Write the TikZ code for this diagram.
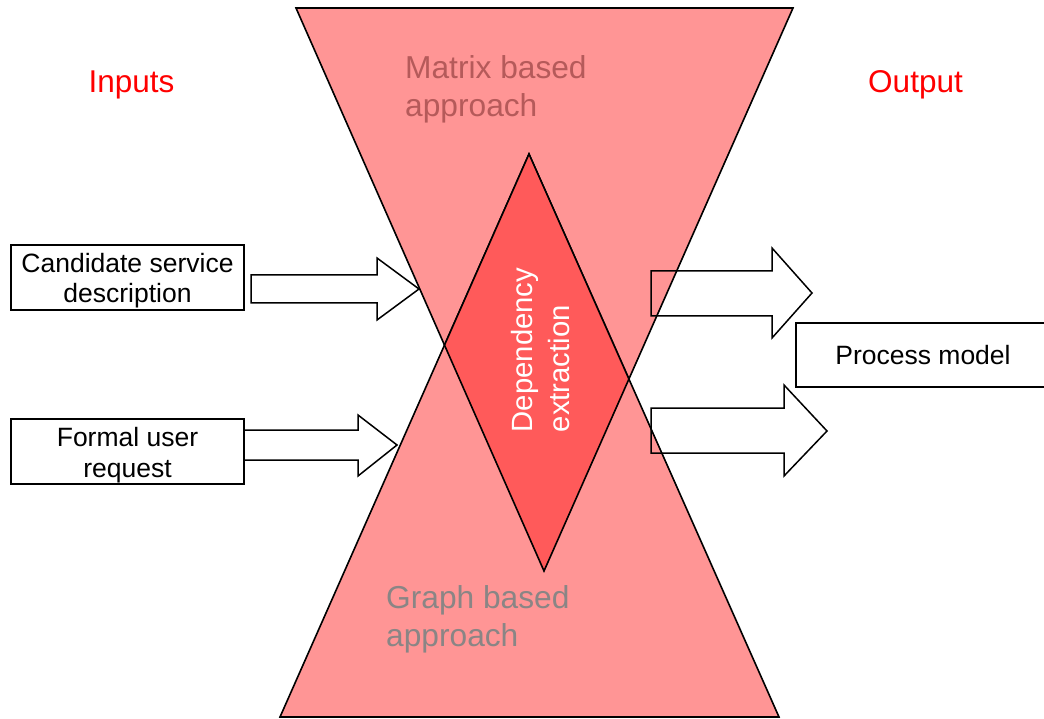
\documentclass[tikz,border=0pt]{standalone}
\usepackage{fontspec}
\setmainfont{Liberation Sans}
\definecolor{funnelpink}{HTML}{FF9595}
\definecolor{corered}{HTML}{FF5A5A}
\definecolor{headred}{HTML}{FF0000}
\definecolor{matrixtxt}{HTML}{B55A5A}
\definecolor{graphtxt}{HTML}{8A8585}
\begin{document}
\begin{tikzpicture}[x=1pt,y=-1pt,
  outline/.style={draw=black,line width=1.6pt,line join=miter},
  funnel/.style={outline,fill=funnelpink},
  core/.style={outline,fill=corered},
  inbox/.style={draw=black,line width=1.5pt,inner sep=0pt,minimum width=233pt,
    minimum height=65pt,align=center,font=\fontsize{26.5}{31}\selectfont},
  blockarrow/.style={draw=black,line width=1.5pt,line join=miter},
  heading/.style={text=headred,inner sep=0pt,font=\fontsize{31.5}{38}\selectfont},
  approach/.style={inner sep=0pt,align=left,anchor=north west,
    font=\fontsize{31.7}{38}\selectfont}
]
\useasboundingbox (0,0) rectangle (1044,719);
\clip (0,0) rectangle (1044,719);

% the two funnels of the hourglass
\coordinate (t1a) at (296,8);
\coordinate (t1b) at (793,8);
\coordinate (t1c) at (544,571);
\coordinate (t2a) at (280,717);
\coordinate (t2b) at (779,717);
\coordinate (t2c) at (529,154);
\path[funnel] (t1a) -- (t1b) -- (t1c) -- cycle;
\path[funnel] (t2a) -- (t2b) -- (t2c) -- cycle;

% their overlap: the extraction core
\coordinate (dl) at (intersection of t1a--t1c and t2a--t2c);
\coordinate (dr) at (intersection of t1b--t1c and t2b--t2c);
\path[core] (t2c) -- (dr) -- (t1c) -- (dl) -- cycle;

\node[rotate=90,text=white,inner sep=0pt,align=left,
  font=\fontsize{29.3}{37}\selectfont] (dep) at (541,350) {Dependency\\extraction};

\node[approach,text=matrixtxt] (matrix) at (405,55.5) {Matrix based\\approach};
\node[approach,text=graphtxt] (graph) at (386,585.5) {Graph based\\approach};

% headings
\node[heading] (inputs) at (131.5,85) {Inputs};
\node[heading] (output) at (915.5,85) {Output};

% input and output boxes
\node[inbox] (cand) at (127.5,277.5) {\rule{0pt}{25.5pt}Candidate service\\description};
\node[inbox] (req) at (127.5,451.5) {\rule{0pt}{25.5pt}Formal user\\request};
\node[inbox,minimum width=254pt,minimum height=64pt] (proc) at (923,355) {Process model};

% block arrows
\draw[blockarrow] (251,275) -- (377,275) -- (377,258) -- (419,289) -- (377,320)
  -- (377,303) -- (251,303) -- cycle;
\draw[blockarrow] (244,430) -- (358,430) -- (358,415) -- (397,445) -- (358,476)
  -- (358,460) -- (244,460) -- cycle;
\draw[blockarrow] (651,271) -- (772,271) -- (772,248) -- (812,293) -- (772,338)
  -- (772,316) -- (651,316) -- cycle;
\draw[blockarrow] (651,408) -- (784,408) -- (784,385) -- (827,431) -- (784,476)
  -- (784,453) -- (651,453) -- cycle;
\end{tikzpicture}
\end{document}
